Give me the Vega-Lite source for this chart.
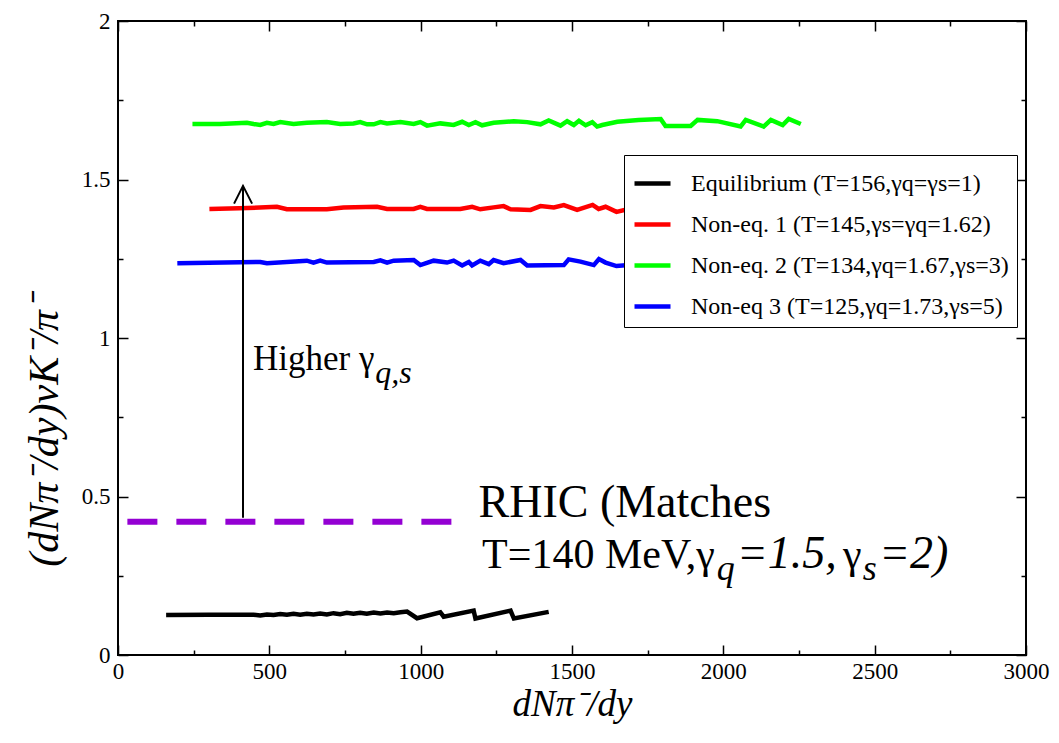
{
  "$schema": "https://vega.github.io/schema/vega-lite/v6.json",
  "width": 908,
  "height": 634,
  "autosize": {"type": "none"},
  "padding": {"left": 118, "top": 21, "right": 33, "bottom": 88},
  "background": "white",
  "config": {
    "view": {"stroke": "black", "strokeWidth": 2},
    "font": "Liberation Serif",
    "axis": {"labelFont": "Liberation Serif", "titleFont": "Liberation Serif", "labelColor": "black", "titleColor": "black", "tickColor": "black", "tickWidth": 1.5, "grid": false, "domain": false}
  },
  "datasets": {
    "lines": [
      {"s":"eq","x":159,"y":0.126},{"s":"eq","x":300,"y":0.127},{"s":"eq","x":448,"y":0.127},{"s":"eq","x":470,"y":0.125},{"s":"eq","x":492,"y":0.128},{"s":"eq","x":514,"y":0.126},{"s":"eq","x":536,"y":0.129},{"s":"eq","x":558,"y":0.127},{"s":"eq","x":580,"y":0.130},{"s":"eq","x":602,"y":0.127},{"s":"eq","x":624,"y":0.130},{"s":"eq","x":646,"y":0.128},{"s":"eq","x":668,"y":0.131},{"s":"eq","x":690,"y":0.128},{"s":"eq","x":712,"y":0.132},{"s":"eq","x":734,"y":0.129},{"s":"eq","x":756,"y":0.133},{"s":"eq","x":778,"y":0.130},{"s":"eq","x":800,"y":0.133},{"s":"eq","x":822,"y":0.130},{"s":"eq","x":845,"y":0.134},{"s":"eq","x":867,"y":0.131},{"s":"eq","x":889,"y":0.134},{"s":"eq","x":911,"y":0.132},{"s":"eq","x":933,"y":0.135},{"s":"eq","x":955,"y":0.137},{"s":"eq","x":988,"y":0.116},{"s":"eq","x":1065,"y":0.135},{"s":"eq","x":1076,"y":0.121},{"s":"eq","x":1175,"y":0.140},{"s":"eq","x":1181,"y":0.115},{"s":"eq","x":1297,"y":0.140},{"s":"eq","x":1308,"y":0.115},{"s":"eq","x":1423,"y":0.136},
      {"s":"n1","x":302,"y":1.407},{"s":"n1","x":400,"y":1.409},{"s":"n1","x":525,"y":1.414},{"s":"n1","x":558,"y":1.406},{"s":"n1","x":690,"y":1.406},{"s":"n1","x":745,"y":1.412},{"s":"n1","x":856,"y":1.414},{"s":"n1","x":889,"y":1.407},{"s":"n1","x":977,"y":1.407},{"s":"n1","x":999,"y":1.414},{"s":"n1","x":1021,"y":1.407},{"s":"n1","x":1131,"y":1.407},{"s":"n1","x":1170,"y":1.414},{"s":"n1","x":1197,"y":1.406},{"s":"n1","x":1241,"y":1.412},{"s":"n1","x":1274,"y":1.416},{"s":"n1","x":1297,"y":1.406},{"s":"n1","x":1363,"y":1.404},{"s":"n1","x":1396,"y":1.416},{"s":"n1","x":1440,"y":1.412},{"s":"n1","x":1473,"y":1.419},{"s":"n1","x":1517,"y":1.404},{"s":"n1","x":1568,"y":1.420},{"s":"n1","x":1588,"y":1.407},{"s":"n1","x":1611,"y":1.414},{"s":"n1","x":1647,"y":1.398},{"s":"n1","x":1700,"y":1.410},{"s":"n1","x":1800,"y":1.405},{"s":"n1","x":1900,"y":1.412},{"s":"n1","x":2000,"y":1.406},{"s":"n1","x":2100,"y":1.410},{"s":"n1","x":2250,"y":1.405},
      {"s":"n2","x":246,"y":1.675},{"s":"n2","x":337,"y":1.675},{"s":"n2","x":426,"y":1.679},{"s":"n2","x":448,"y":1.675},{"s":"n2","x":470,"y":1.672},{"s":"n2","x":492,"y":1.679},{"s":"n2","x":514,"y":1.675},{"s":"n2","x":536,"y":1.681},{"s":"n2","x":580,"y":1.675},{"s":"n2","x":624,"y":1.679},{"s":"n2","x":690,"y":1.681},{"s":"n2","x":734,"y":1.675},{"s":"n2","x":778,"y":1.677},{"s":"n2","x":800,"y":1.681},{"s":"n2","x":823,"y":1.674},{"s":"n2","x":845,"y":1.674},{"s":"n2","x":867,"y":1.681},{"s":"n2","x":889,"y":1.677},{"s":"n2","x":933,"y":1.681},{"s":"n2","x":977,"y":1.675},{"s":"n2","x":999,"y":1.681},{"s":"n2","x":1021,"y":1.670},{"s":"n2","x":1065,"y":1.677},{"s":"n2","x":1109,"y":1.672},{"s":"n2","x":1137,"y":1.682},{"s":"n2","x":1159,"y":1.672},{"s":"n2","x":1181,"y":1.681},{"s":"n2","x":1203,"y":1.671},{"s":"n2","x":1241,"y":1.679},{"s":"n2","x":1308,"y":1.684},{"s":"n2","x":1352,"y":1.681},{"s":"n2","x":1396,"y":1.674},{"s":"n2","x":1423,"y":1.686},{"s":"n2","x":1462,"y":1.670},{"s":"n2","x":1484,"y":1.684},{"s":"n2","x":1506,"y":1.672},{"s":"n2","x":1523,"y":1.685},{"s":"n2","x":1545,"y":1.671},{"s":"n2","x":1567,"y":1.681},{"s":"n2","x":1583,"y":1.667},{"s":"n2","x":1600,"y":1.672},{"s":"n2","x":1650,"y":1.682},{"s":"n2","x":1720,"y":1.688},{"s":"n2","x":1793,"y":1.691},{"s":"n2","x":1809,"y":1.669},{"s":"n2","x":1892,"y":1.669},{"s":"n2","x":1915,"y":1.688},{"s":"n2","x":1980,"y":1.684},{"s":"n2","x":2057,"y":1.667},{"s":"n2","x":2074,"y":1.688},{"s":"n2","x":2133,"y":1.667},{"s":"n2","x":2157,"y":1.688},{"s":"n2","x":2196,"y":1.672},{"s":"n2","x":2216,"y":1.691},{"s":"n2","x":2256,"y":1.675},
      {"s":"n3","x":196,"y":1.236},{"s":"n3","x":470,"y":1.240},{"s":"n3","x":492,"y":1.236},{"s":"n3","x":624,"y":1.244},{"s":"n3","x":646,"y":1.238},{"s":"n3","x":668,"y":1.244},{"s":"n3","x":690,"y":1.238},{"s":"n3","x":845,"y":1.240},{"s":"n3","x":867,"y":1.245},{"s":"n3","x":889,"y":1.238},{"s":"n3","x":911,"y":1.244},{"s":"n3","x":977,"y":1.246},{"s":"n3","x":999,"y":1.230},{"s":"n3","x":1043,"y":1.244},{"s":"n3","x":1087,"y":1.238},{"s":"n3","x":1109,"y":1.244},{"s":"n3","x":1137,"y":1.229},{"s":"n3","x":1159,"y":1.240},{"s":"n3","x":1170,"y":1.229},{"s":"n3","x":1197,"y":1.244},{"s":"n3","x":1225,"y":1.233},{"s":"n3","x":1241,"y":1.246},{"s":"n3","x":1274,"y":1.236},{"s":"n3","x":1330,"y":1.246},{"s":"n3","x":1352,"y":1.229},{"s":"n3","x":1473,"y":1.230},{"s":"n3","x":1489,"y":1.248},{"s":"n3","x":1528,"y":1.241},{"s":"n3","x":1572,"y":1.230},{"s":"n3","x":1589,"y":1.249},{"s":"n3","x":1611,"y":1.238},{"s":"n3","x":1647,"y":1.227},{"s":"n3","x":1750,"y":1.235},{"s":"n3","x":1900,"y":1.238},{"s":"n3","x":2050,"y":1.234},{"s":"n3","x":2250,"y":1.236}
    ],
    "rhic": [{"x": 31, "y": 0.42}, {"x": 1105, "y": 0.42}],
    "arrow": [
      {"part": "shaft", "o": 0, "x": 413, "y": 0.433},
      {"part": "shaft", "o": 1, "x": 413, "y": 1.48},
      {"part": "head", "o": 0, "x": 383.5, "y": 1.424},
      {"part": "head", "o": 1, "x": 413, "y": 1.48},
      {"part": "head", "o": 2, "x": 443, "y": 1.424}
    ],
    "higherReg": [{"t": "Higher γ", "x": 446, "y": 0.899}],
    "higherSub": [{"t": "q,s", "x": 850, "y": 0.859}],
    "rhicReg": [{"t": "RHIC (Matches", "x": 1191, "y": 0.436}],
    "rhicReg2": [{"t": "T=140 MeV,γ", "x": 1203, "y": 0.2735}, {"t": "γ", "x": 2395, "y": 0.2735}],
    "rhicIt": [{"t": "=1.5,", "x": 2044, "y": 0.2735}, {"t": "=2)", "x": 2514, "y": 0.2735}],
    "rhicSub": [{"t": "q", "x": 1978, "y": 0.2366}, {"t": "s", "x": 2461, "y": 0.2366}]
  },
  "layer": [
    {
      "data": {"name": "lines"},
      "mark": {"type": "line", "strokeWidth": 4.5},
      "encoding": {
        "x": {
          "field": "x", "type": "quantitative",
          "scale": {"domain": [0, 3000], "nice": false, "zero": false},
          "axis": {
            "orient": "bottom",
            "values": [0,250,500,750,1000,1250,1500,1750,2000,2250,2500,2750,3000],
            "format": "d",
            "labelExpr": "datum.value % 500 === 0 ? datum.label : ''",
            "labelFontSize": 23, "labelPadding": 5, "labelFlush": false, "labelOverlap": false, "labelBound": false,
            "tickSize": 0,
            "title": "dNπ⁻/dy", "titleFontSize": 37, "titleFontStyle": "italic", "titleFontWeight": "normal",
            "titleX": 454, "titleY": 60, "titleAlign": "center", "titleBaseline": "alphabetic",
            "encoding": {"ticks": {"y2": {"condition": {"test": "datum.value % 500 === 0", "value": -10}, "value": -5}}}
          }
        },
        "y": {
          "field": "y", "type": "quantitative",
          "scale": {"domain": [0, 2], "nice": false, "zero": false},
          "axis": {
            "orient": "left",
            "values": [0,0.25,0.5,0.75,1,1.25,1.5,1.75,2],
            "format": "~g",
            "labelExpr": "datum.value % 0.5 === 0 ? datum.label : ''",
            "labelFontSize": 23, "labelPadding": 8, "labelFlush": false, "labelOverlap": false, "labelBound": false,
            "tickSize": 0,
            "title": "(dNπ⁻/dy)νK⁻/π⁻", "titleFontSize": 42, "titleFontStyle": "italic", "titleFontWeight": "normal",
            "titleX": -74, "titleY": 410, "titleAngle": -90, "titleAlign": "center", "titleBaseline": "middle",
            "encoding": {"ticks": {"x2": {"condition": {"test": "datum.value % 0.5 === 0", "value": 10}, "value": 5}}}
          }
        },
        "color": {
          "field": "s", "type": "nominal",
          "scale": {"domain": ["eq", "n1", "n2", "n3"], "range": ["#000000", "#ff0000", "#00ff00", "#0000ff"]},
          "legend": {
            "title": null, "orient": "none", "legendX": 506, "legendY": 134, "direction": "vertical",
            "symbolType": "stroke", "symbolStrokeWidth": 4.5, "symbolSize": 1296,
            "labelFont": "Liberation Serif", "labelFontSize": 24, "labelColor": "black", "labelLimit": 0, "labelOffset": 18,
            "rowPadding": 8, "padding": 8, "strokeColor": "black", "fillColor": "white",
            "labelExpr": "datum.value === 'eq' ? 'Equilibrium (T=156,γq=γs=1)' : datum.value === 'n1' ? 'Non-eq. 1 (T=145,γs=γq=1.62)' : datum.value === 'n2' ? 'Non-eq. 2 (T=134,γq=1.67,γs=3)' : 'Non-eq 3 (T=125,γq=1.73,γs=5)'"
          }
        }
      }
    },
    {
      "data": {"name": "rhic"},
      "mark": {"type": "line", "color": "#9400d3", "strokeWidth": 6, "strokeDash": [30, 19]},
      "encoding": {
        "x": {"field": "x", "type": "quantitative", "scale": {"domain": [0, 3000], "nice": false, "zero": false}, "axis": null},
        "y": {"field": "y", "type": "quantitative", "scale": {"domain": [0, 2], "nice": false, "zero": false}, "axis": null}
      }
    },
    {
      "data": {"name": "arrow"},
      "mark": {"type": "line", "color": "black", "strokeWidth": 2},
      "encoding": {
        "x": {
          "field": "x", "type": "quantitative", "scale": {"domain": [0, 3000], "nice": false, "zero": false},
          "axis": {
            "orient": "top", "values": [0,250,500,750,1000,1250,1500,1750,2000,2250,2500,2750,3000],
            "labels": false, "title": null, "tickSize": 0,
            "encoding": {"ticks": {"y2": {"condition": {"test": "datum.value % 500 === 0", "value": 10}, "value": 5}}}
          }
        },
        "y": {
          "field": "y", "type": "quantitative", "scale": {"domain": [0, 2], "nice": false, "zero": false},
          "axis": {
            "orient": "right", "values": [0,0.25,0.5,0.75,1,1.25,1.5,1.75,2],
            "labels": false, "title": null, "tickSize": 0,
            "encoding": {"ticks": {"x2": {"condition": {"test": "datum.value % 0.5 === 0", "value": -10}, "value": -5}}}
          }
        },
        "detail": {"field": "part"},
        "order": {"field": "o"}
      }
    },
    {
      "data": {"name": "higherReg"},
      "mark": {"type": "text", "font": "Liberation Serif", "fontSize": 35, "align": "left", "baseline": "alphabetic", "color": "black"},
      "encoding": {
        "x": {"field": "x", "type": "quantitative", "scale": {"domain": [0, 3000], "nice": false, "zero": false}, "axis": null},
        "y": {"field": "y", "type": "quantitative", "scale": {"domain": [0, 2], "nice": false, "zero": false}, "axis": null},
        "text": {"field": "t"}
      }
    },
    {
      "data": {"name": "higherSub"},
      "mark": {"type": "text", "font": "Liberation Serif", "fontSize": 32, "fontStyle": "italic", "align": "left", "baseline": "alphabetic", "color": "black"},
      "encoding": {
        "x": {"field": "x", "type": "quantitative", "scale": {"domain": [0, 3000], "nice": false, "zero": false}, "axis": null},
        "y": {"field": "y", "type": "quantitative", "scale": {"domain": [0, 2], "nice": false, "zero": false}, "axis": null},
        "text": {"field": "t"}
      }
    },
    {
      "data": {"name": "rhicReg"},
      "mark": {"type": "text", "font": "Liberation Serif", "fontSize": 46, "align": "left", "baseline": "alphabetic", "color": "black"},
      "encoding": {
        "x": {"field": "x", "type": "quantitative", "scale": {"domain": [0, 3000], "nice": false, "zero": false}, "axis": null},
        "y": {"field": "y", "type": "quantitative", "scale": {"domain": [0, 2], "nice": false, "zero": false}, "axis": null},
        "text": {"field": "t"}
      }
    },
    {
      "data": {"name": "rhicReg2"},
      "mark": {"type": "text", "font": "Liberation Serif", "fontSize": 42, "align": "left", "baseline": "alphabetic", "color": "black"},
      "encoding": {
        "x": {"field": "x", "type": "quantitative", "scale": {"domain": [0, 3000], "nice": false, "zero": false}, "axis": null},
        "y": {"field": "y", "type": "quantitative", "scale": {"domain": [0, 2], "nice": false, "zero": false}, "axis": null},
        "text": {"field": "t"}
      }
    },
    {
      "data": {"name": "rhicIt"},
      "mark": {"type": "text", "font": "Liberation Serif", "fontSize": 46, "fontStyle": "italic", "align": "left", "baseline": "alphabetic", "color": "black"},
      "encoding": {
        "x": {"field": "x", "type": "quantitative", "scale": {"domain": [0, 3000], "nice": false, "zero": false}, "axis": null},
        "y": {"field": "y", "type": "quantitative", "scale": {"domain": [0, 2], "nice": false, "zero": false}, "axis": null},
        "text": {"field": "t"}
      }
    },
    {
      "data": {"name": "rhicSub"},
      "mark": {"type": "text", "font": "Liberation Serif", "fontSize": 36, "fontStyle": "italic", "align": "left", "baseline": "alphabetic", "color": "black"},
      "encoding": {
        "x": {"field": "x", "type": "quantitative", "scale": {"domain": [0, 3000], "nice": false, "zero": false}, "axis": null},
        "y": {"field": "y", "type": "quantitative", "scale": {"domain": [0, 2], "nice": false, "zero": false}, "axis": null},
        "text": {"field": "t"}
      }
    }
  ],
  "resolve": {"axis": {"x": "independent", "y": "independent"}}
}
